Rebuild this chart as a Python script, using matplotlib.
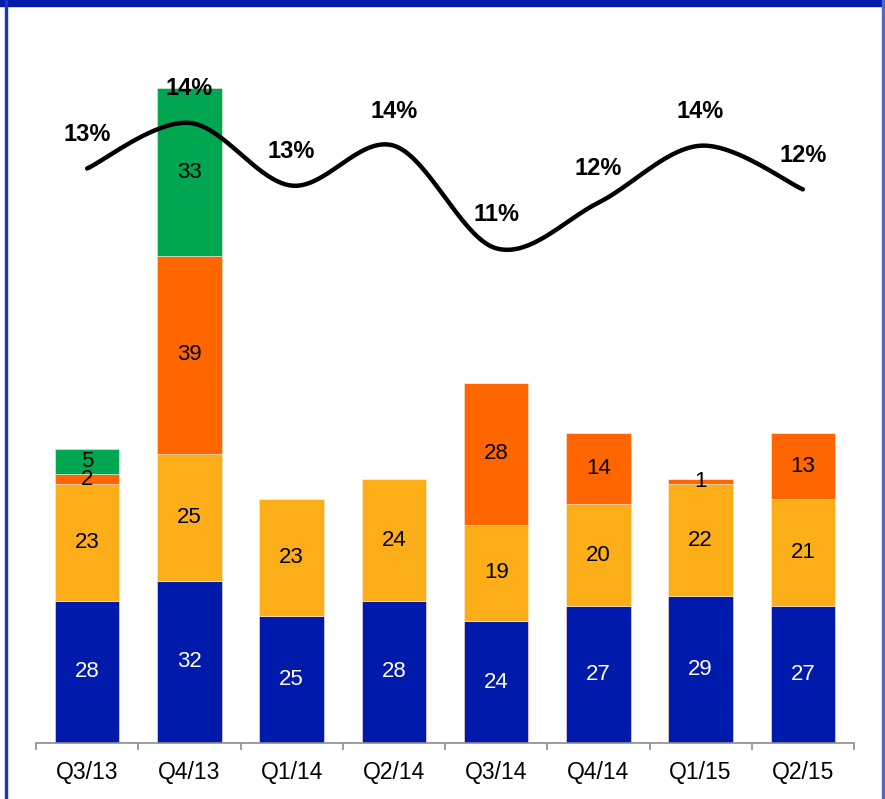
import matplotlib.pyplot as plt
import matplotlib.patches as mpatches
import numpy as np

plt.rcParams['font.family'] = ['Liberation Sans', 'DejaVu Sans']

quarters = ['Q3/13', 'Q4/13', 'Q1/14', 'Q2/14', 'Q3/14', 'Q4/14', 'Q1/15', 'Q2/15']
seg_blue = [28, 32, 25, 28, 24, 27, 29, 27]
seg_yellow = [23, 25, 23, 24, 19, 20, 22, 21]
seg_orange = [2, 39, 0, 0, 28, 14, 1, 13]
seg_green = [5, 33, 0, 0, 0, 0, 0, 0]
share_pct = [13.0, 14.2, 12.55, 13.6, 10.9, 12.1, 13.6, 12.45]

colors = ['#001AAB', '#FCAE19', '#FF6600', '#00A650']
text_colors = ['white', 'black', 'black', 'black']

W, H = 885, 799
fig = plt.figure(figsize=(W / 100, H / 100), dpi=100)

# axes box in pixels: x 36..854, y 60..743 (from top)
ax = fig.add_axes([36 / W, (H - 743) / H, 818 / W, 683 / H])
x = np.arange(len(quarters))
bottom = np.zeros(len(quarters))
for vals, c, tc in zip([seg_blue, seg_yellow, seg_orange, seg_green], colors, text_colors):
    vals = np.array(vals, dtype=float)
    ax.bar(x, vals, bottom=bottom, width=0.63, color=c, edgecolor='#FFE9D6',
           linewidth=0.4, zorder=2)
    for xi, b, v in zip(x, bottom, vals):
        if v > 0:
            ax.text(xi, b + v / 2, f"{v:.0f}", ha='center', va='center',
                    fontsize=16, color=tc, zorder=3)
    bottom += vals

ax.set_xlim(-0.5, len(quarters) - 0.5)
ax.set_ylim(0, 683 / 5.075)
for s in ['left', 'right', 'top']:
    ax.spines[s].set_visible(False)
ax.spines['bottom'].set_color('#8C8C8C')
ax.spines['bottom'].set_linewidth(1.2)
ax.set_yticks([])
ax.set_xticks(x)
ax.set_xticklabels(quarters, fontsize=16.5)
ax.tick_params(axis='x', which='major', length=0, pad=13)
ax.set_xticks(np.arange(-0.5, len(quarters)), minor=True)
ax.tick_params(axis='x', which='minor', length=5, width=1.2, color='#8C8C8C', direction='out')

# share line on its own scale, smoothed like an office chart
ax2 = ax.twinx()
y_top = 12.5 + (187.5 - 60) / 38
y_bot = 12.5 - (743 - 187.5) / 38
ax2.set_ylim(y_bot, y_top)
ax2.axis('off')

pts = np.column_stack([x, share_pct]).astype(float)
ext = np.vstack([pts[0], pts, pts[-1]])
curve = []
t = np.linspace(0, 1, 40)[:, None]
for i in range(len(pts) - 1):
    p0, p1, p2, p3 = ext[i], ext[i + 1], ext[i + 2], ext[i + 3]
    c1 = p1 + (p2 - p0) / 6
    c2 = p2 - (p3 - p1) / 6
    seg = ((1 - t) ** 3) * p1 + 3 * ((1 - t) ** 2) * t * c1 + 3 * (1 - t) * t ** 2 * c2 + t ** 3 * p2
    curve.append(seg)
curve = np.vstack(curve)
ax2.plot(curve[:, 0], curve[:, 1], color='black', linewidth=3.2,
         solid_capstyle='round', zorder=4)
for xi, v in zip(x, share_pct):
    ax2.annotate(f"{v:.0f}%", (xi, v), xytext=(0, 24.5), textcoords='offset points',
                 ha='center', va='center', fontsize=17, fontweight='bold', zorder=5)

# blue frame around the chart
fig.patches.append(mpatches.Rectangle((0, 1 - 5.5 / H), 1, 5.5 / H, transform=fig.transFigure,
                                      color='#001AAB', zorder=10))
fig.patches.append(mpatches.Rectangle((5 / W, 0), 2 / W, 1, transform=fig.transFigure,
                                      color='#1E33C0', zorder=10))
fig.patches.append(mpatches.Rectangle((882 / W, 0), 2 / W, 1, transform=fig.transFigure,
                                      color='#5566C8', zorder=10))

fig.savefig('out.png', dpi=100)
